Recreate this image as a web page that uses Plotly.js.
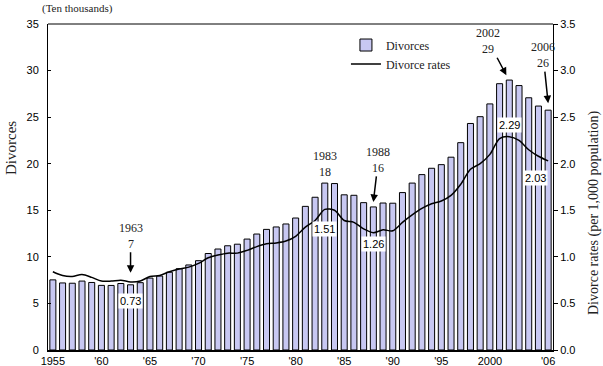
<!DOCTYPE html>
<html>
<head>
<meta charset="utf-8">
<script src="https://cdn.plot.ly/plotly-3.0.1.min.js"></script>
<style>html,body{margin:0;padding:0;background:#fff;}#chart{width:603px;height:366px;}</style>
</head>
<body>
<div id="chart"></div>
<script>
const years = [1955,1956,1957,1958,1959,1960,1961,1962,1963,1964,1965,1966,1967,1968,1969,1970,1971,1972,1973,1974,1975,1976,1977,1978,1979,1980,1981,1982,1983,1984,1985,1986,1987,1988,1989,1990,1991,1992,1993,1994,1995,1996,1997,1998,1999,2000,2001,2002,2003,2004,2005,2006];
const divorces = [7.53,7.20,7.17,7.40,7.25,6.94,6.93,7.14,7.00,7.23,7.72,7.94,8.35,8.73,9.13,9.59,10.36,10.84,11.19,11.36,11.91,12.45,12.95,13.21,13.53,14.17,15.42,16.40,17.92,17.87,16.66,16.61,15.82,15.36,15.78,15.76,16.90,17.92,18.83,19.51,19.90,20.70,22.26,24.32,25.05,26.42,28.59,28.98,28.39,27.08,26.19,25.75];
const rates = [0.84,0.80,0.79,0.81,0.78,0.74,0.74,0.75,0.73,0.74,0.79,0.80,0.84,0.87,0.89,0.93,0.99,1.02,1.04,1.04,1.07,1.11,1.14,1.15,1.17,1.22,1.32,1.39,1.51,1.50,1.39,1.37,1.30,1.26,1.29,1.28,1.37,1.45,1.52,1.57,1.60,1.66,1.78,1.94,2.00,2.10,2.27,2.29,2.25,2.15,2.08,2.03];
const tickYears = [1955,1960,1965,1970,1975,1980,1985,1990,1995,2000,2006];
const tickLabels = ['1955',"'60","'65","'70","'75","'80","'85","'90","'95",'2000',"'06"];
const leftTicks = [0,5,10,15,20,25,30,35];
const rightTicks = [0,0.5,1,1.5,2,2.5,3,3.5];
const calloutYears = [1963,1983,1988,2002,2006];
const calloutValues = ['7','18','16','29','26'];
const rateLabelYears = [1963,1983,1988,2002,2006];

const serif = 'Liberation Serif, Times New Roman, serif';
const sans = 'Liberation Sans, Arial, sans-serif';
const txtColor = '#222';

const L = 48, R = 50, T = 24, B = 16, W = 603, H = 366;
const pw = W - L - R, ph = H - T - B;
function px2x(p){ return (p - L) / pw; }
function px2y(p){ return (H - B - p) / ph; }
function idx(y){ return years.indexOf(y); }

const traces = [
  {
    type: 'bar', name: 'Divorces', x: years, y: divorces, yaxis: 'y',
    marker: {color: '#C8C8F2', line: {color: '#000', width: 1}},
    hoverinfo: 'x+y'
  },
  {
    type: 'scatter', mode: 'lines', name: 'Divorce rates', x: years, y: rates, yaxis: 'y2',
    line: {color: '#000', width: 1.5, shape: 'spline', smoothing: 0.8}
  }
];

const annotations = [];
const callCfg = {
  1963: {arrow: true, headY: 8.3, ax: 0, ay: -37, dx: 0},
  1983: {arrow: false, dy: 164},
  1988: {arrow: true, headY: 15.9, ax: 5, ay: -42, dx: 0},
  2002: {arrow: true, headY: 29.5, ax: -18, ay: -34, dx: -0.3},
  2006: {arrow: true, headY: 26.5, ax: -5, ay: -48, dx: 0}
};
calloutYears.forEach((yr, i) => {
  const c = callCfg[yr];
  const text = yr + '<br>' + calloutValues[i];
  if (c.arrow) {
    annotations.push({
      x: yr + c.dx, y: c.headY, xref: 'x', yref: 'y', text: text,
      showarrow: true, arrowhead: 2, arrowsize: 1, arrowwidth: 1.5, arrowcolor: '#000',
      ax: c.ax, ay: c.ay, standoff: 0,
      font: {family: serif, size: 12, color: txtColor}
    });
  } else {
    annotations.push({
      x: yr, y: px2y(c.dy), xref: 'x', yref: 'paper', xanchor: 'center', yanchor: 'middle',
      text: text, showarrow: false,
      font: {family: serif, size: 12, color: txtColor}
    });
  }
});
const rateShift = {1963: [0, -19], 1983: [0, -20], 1988: [0, -11], 2002: [0, 12], 2006: [-13, -17]};
rateLabelYears.forEach(yr => {
  const v = rates[idx(yr)];
  annotations.push({
    x: yr, y: v, xref: 'x', yref: 'y2', text: v.toFixed(2), showarrow: false,
    xshift: rateShift[yr][0], yshift: rateShift[yr][1],
    bgcolor: '#fff', borderpad: 1,
    font: {family: sans, size: 11, color: '#000'}
  });
});
annotations.push({
  x: px2x(11), y: px2y(148), xref: 'paper', yref: 'paper', xanchor: 'center', yanchor: 'middle',
  text: 'Divorces', textangle: -90, showarrow: false,
  font: {family: serif, size: 15, color: txtColor}
});
annotations.push({
  x: px2x(594), y: px2y(213), xref: 'paper', yref: 'paper', xanchor: 'center', yanchor: 'middle',
  text: 'Divorce rates (per 1,000 population)', textangle: -90, showarrow: false,
  font: {family: serif, size: 14, color: txtColor}
});
annotations.push({
  x: px2x(77), y: px2y(8), xref: 'paper', yref: 'paper', xanchor: 'center', yanchor: 'middle',
  text: '(Ten thousands)', showarrow: false,
  font: {family: serif, size: 11, color: txtColor}
});

const layout = {
  width: W, height: H,
  margin: {l: L, r: R, t: T, b: B, pad: 0},
  paper_bgcolor: '#fff', plot_bgcolor: '#fff',
  showlegend: true,
  bargap: 0.38,
  legend: {
    x: 0.59, y: 0.98, xanchor: 'left', yanchor: 'top',
    bgcolor: 'rgba(0,0,0,0)', borderwidth: 0,
    font: {family: serif, size: 12, color: txtColor},
    tracegroupgap: 0, itemwidth: 30
  },
  xaxis: {
    range: [1954.5, 2006.5], tickmode: 'array', tickvals: tickYears, ticktext: tickLabels,
    showgrid: false, zeroline: false, showline: true, linecolor: '#000', linewidth: 2,
    ticks: '', tickfont: {family: sans, size: 11, color: '#000'}, fixedrange: true
  },
  yaxis: {
    range: [0, 35], tickmode: 'array', tickvals: leftTicks,
    showgrid: false, zeroline: false, showline: true, linecolor: '#000', linewidth: 1,
    ticks: 'inside', ticklen: 3, tickcolor: '#000', ticklabelstandoff: 6,
    tickfont: {family: sans, size: 11, color: '#000'}
  },
  yaxis2: {
    range: [0, 3.5], tickmode: 'array', tickvals: rightTicks, tickformat: '.1f',
    overlaying: 'y', side: 'right',
    showgrid: false, zeroline: false, showline: true, linecolor: '#000', linewidth: 1,
    ticks: 'outside', ticklen: 4, tickcolor: '#000',
    tickfont: {family: sans, size: 11, color: '#000'}
  },
  shapes: [
    {type: 'line', xref: 'paper', yref: 'paper', x0: 0, x1: 1, y0: 1, y1: 1, line: {color: '#000', width: 1}}
  ],
  annotations: annotations
};

Plotly.newPlot('chart', traces, layout, {displayModeBar: false, staticPlot: true});
</script>
</body>
</html>
